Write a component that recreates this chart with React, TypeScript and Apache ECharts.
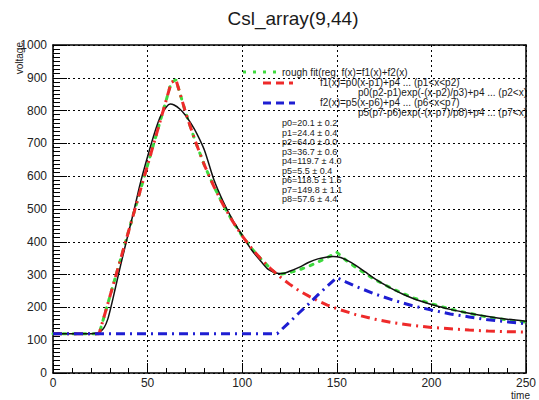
import React, { useEffect, useRef } from "react";
import * as echarts from "echarts";

// ---- data ----
// black: measured waveform
const blackT = [0, 10, 20, 23, 25, 27, 29, 31, 33, 36, 40, 43, 46, 50, 54, 57, 60, 62, 64, 67, 70, 73, 76, 80, 85, 90, 95, 100, 105, 110, 114, 118, 121, 125, 130, 135, 140, 145, 148, 152, 156, 160, 165, 170, 175, 180, 185, 190, 195, 200, 210, 220, 230, 240, 250];
const blackV = [120, 120, 120, 122, 126, 138, 165, 210, 260, 335, 430, 500, 575, 660, 738, 785, 812, 820, 817, 805, 786, 760, 730, 680, 590, 522, 466, 420, 375, 340, 315, 305, 303, 310, 322, 337, 348, 354, 355, 352, 342, 328, 308, 288, 270, 254, 240, 228, 218, 209, 194, 182, 172, 164, 158];

// red: f1
const f1T = [0, 24.4, 30, 40, 50, 60, 62.5, 65, 70, 75, 80, 85, 90, 95, 100, 105, 110, 115, 120, 125, 130, 135, 140, 145, 150, 160, 170, 180, 190, 200, 210, 220, 230, 240, 250];
const f1V = [120, 120, 232, 433, 634, 835, 886, 894, 796, 710, 634, 569, 512, 462, 418, 380, 347, 318, 293, 271, 251, 235, 220, 207, 196, 178, 164, 153, 145, 139, 135, 131, 128, 126, 125];

// green: rough fit f1 + f2
const roughT = [0, 24.4, 30, 40, 50, 60, 62.5, 65, 70, 75, 80, 85, 90, 95, 100, 105, 110, 115, 118.5, 120, 125, 130, 135, 140, 145, 150, 155, 160, 170, 180, 190, 200, 210, 220, 230, 240, 250];
const roughV = [120, 120, 232, 433, 634, 835, 886, 894, 796, 710, 634, 569, 512, 462, 418, 380, 347, 318, 300, 301, 306, 314, 325, 338, 352, 368, 343, 322, 285, 255, 230, 211, 195, 182, 170, 162, 155];

// blue: f2
const f2T = [0, 118.5, 125, 130, 135, 140, 145, 150, 155, 160, 170, 180, 190, 200, 210, 220, 230, 240, 250];
const f2V = [120, 120, 155, 183, 210, 238, 265, 291, 277, 264, 241, 222, 205, 192, 180, 171, 162, 156, 150];

const xTicks = { min: 0, max: 250, interval: 50 };
const yTicks = { min: 0, max: 1000, interval: 100 };

const legendTexts = [
  "rough fit(reg. f(x)=f1(x)+f2(x)",
  "f1(x)=p0(x-p1)+p4 ... (p1<x<p2)",
  "p0(p2-p1)exp(-(x-p2)/p3)+p4 ... (p2<x)",
  "f2(x)=p5(x-p6)+p4 ... (p6<x<p7)",
  "p5(p7-p6)exp(-(x-p7)/p8)+p4 ... (p7<x)",
];
const paramTexts = [
  "p0=20.1 ± 0.2",
  "p1=24.4 ± 0.4",
  "p2=64.0 ± 0.0",
  "p3=36.7 ± 0.6",
  "p4=119.7 ± 4.0",
  "p5=5.5 ± 0.4",
  "p6=118.5 ± 1.5",
  "p7=149.8 ± 1.1",
  "p8=57.6 ± 4.4",
];

const FONT = '"Liberation Sans", Arial, Helvetica, sans-serif';
const GREEN = "#3ed93e";
const RED = "#ee2a2a";
const BLUE = "#1e1ed2";

const zip = (t: number[], v: number[]) => t.map((x, i) => [x, v[i]]);

export default function App() {
  const ref = useRef<HTMLDivElement>(null);
  useEffect(() => {
    if (!ref.current) return;
    const chart = echarts.init(ref.current, undefined, { renderer: "svg" });
    const paramY = [123, 132.5, 142, 151.5, 161, 170.5, 180, 189.5, 199];
    const legendY = [72, 82, 92, 102, 112];
    const txt = (text: string, x: number, y: number, size: number, align = "left", extra: any = {}) => ({
      type: "text",
      x,
      y,
      silent: true,
      ...extra,
      style: {
        text,
        fill: "#1a1a1a",
        fontSize: size,
        fontFamily: FONT,
        textAlign: align,
        textVerticalAlign: "middle",
      },
    });
    const sample = (x1: number, x2: number, y: number, color: string, dash: number[]) => ({
      type: "line",
      silent: true,
      shape: { x1, y1: y, x2, y2: y },
      style: { stroke: color, lineWidth: 3, lineDash: dash },
    });
    const option: any = {
      animation: false,
      backgroundColor: "#ffffff",
      grid: { left: 53, right: 9, top: 45, bottom: 27, containLabel: false },
      xAxis: [
        {
          type: "value",
          position: "bottom",
          ...xTicks,
          axisLine: { show: true, lineStyle: { color: "#000", width: 1.5 } },
          axisTick: { show: true, inside: true, length: 10, lineStyle: { color: "#000" } },
          minorTick: { show: true, splitNumber: 5, length: 5, lineStyle: { color: "#000" } },
          axisLabel: { color: "#222", fontSize: 12, fontFamily: FONT, margin: 4, formatter: (v: number) => String(v) },
          splitLine: { show: true, lineStyle: { color: "#000", type: [2, 3], width: 1 } },
        },
        {
          type: "value",
          position: "top",
          ...xTicks,
          axisLine: { show: true, onZero: false, lineStyle: { color: "#000", width: 1.5 } },
          axisTick: { show: false },
          axisLabel: { show: false },
          splitLine: { show: false },
        },
      ],
      yAxis: [
        {
          type: "value",
          position: "left",
          ...yTicks,
          axisLine: { show: true, onZero: false, lineStyle: { color: "#000", width: 1.5 } },
          axisTick: { show: true, inside: true, length: 14, lineStyle: { color: "#000" } },
          minorTick: { show: true, splitNumber: 8, length: 7, lineStyle: { color: "#000" } },
          axisLabel: { color: "#222", fontSize: 12, fontFamily: FONT, margin: 6, formatter: (v: number) => String(v) },
          splitLine: { show: true, lineStyle: { color: "#000", type: [2, 3], width: 1 } },
        },
        {
          type: "value",
          position: "right",
          ...yTicks,
          axisLine: { show: true, onZero: false, lineStyle: { color: "#000", width: 1.5 } },
          axisTick: { show: false },
          axisLabel: { show: false },
          splitLine: { show: false },
        },
      ],
      series: [
        {
          name: "rough fit",
          type: "line",
          data: zip(roughT, roughV),
          showSymbol: false,
          lineStyle: { color: GREEN, width: 3, type: [3, 7], cap: "round" },
          z: 2,
        },
        {
          name: "data",
          type: "line",
          data: zip(blackT, blackV),
          showSymbol: false,
          smooth: 0.3,
          lineStyle: { color: "#111", width: 1.5 },
          z: 3,
        },
        {
          name: "f1",
          type: "line",
          data: zip(f1T, f1V),
          showSymbol: false,
          lineStyle: { color: RED, width: 3, type: [9, 5, 2, 5] },
          z: 4,
        },
        {
          name: "f2",
          type: "line",
          data: zip(f2T, f2V),
          showSymbol: false,
          lineStyle: { color: BLUE, width: 3, type: [9, 5, 2, 5] },
          z: 4,
        },
      ],
      graphic: [
        txt("Csl_array(9,44)", 293, 18, 19, "center", {}),
        txt("voltage", 19, 42, 10, "right", { rotation: Math.PI / 2 }),
        txt("time", 530, 395, 10, "right"),
        sample(243, 280, legendY[0], GREEN, [3, 7]),
        sample(263, 293, legendY[1] + 1, RED, [8, 5]),
        sample(263, 295, legendY[3] + 1, BLUE, [8, 5]),
        txt(legendTexts[0], 282, legendY[0], 10),
        txt(legendTexts[1], 320, legendY[1], 10),
        txt(legendTexts[2], 358, legendY[2], 10),
        txt(legendTexts[3], 320, legendY[3], 10),
        txt(legendTexts[4], 358, legendY[4], 10),
        ...paramTexts.map((p, i) => txt(p, 282, paramY[i], 9)),
      ],
    };
    chart.setOption(option);
    return () => chart.dispose();
  }, []);
  return <div ref={ref} style={{ width: 539, height: 400, position: "absolute", left: 0, top: 0 }} />;
}
